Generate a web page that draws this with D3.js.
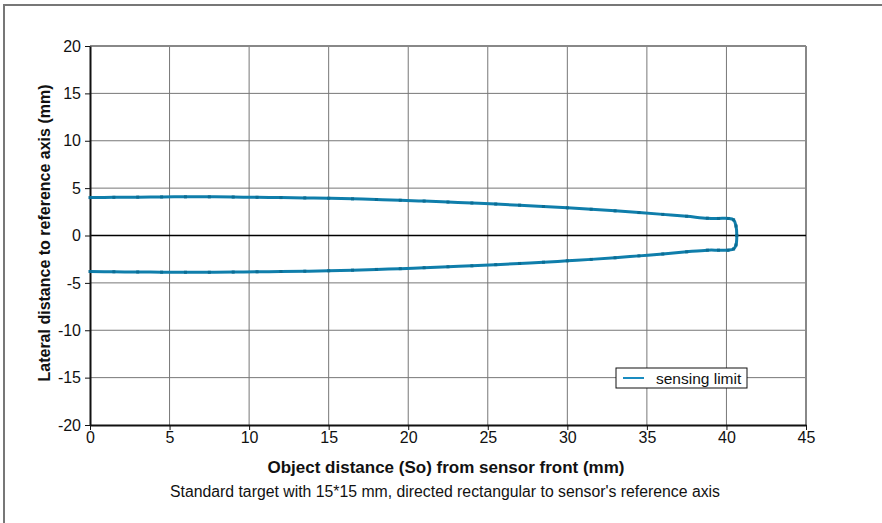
<!DOCTYPE html>
<html>
<head>
<meta charset="utf-8">
<script src="https://cdn.jsdelivr.net/npm/d3@7"></script>
<style>
  body { margin: 0; background: #fff; }
  svg text { font-family: "Liberation Sans", Arial, sans-serif; fill: #111; }
  .grid line { stroke: #777; stroke-width: 1px; }
  .tick text { font-size: 16px; }
</style>
</head>
<body>
<svg id="chart" width="882" height="523"></svg>
<script>
  // sensing limit, traced upper branch -> nose -> lower branch
  const distX = [0, 1.5, 3, 4.5, 6, 7.5, 9, 10.5, 12, 13.5, 15, 16.5, 18, 19.5, 21, 22.5, 24, 25.5, 27, 28.5,
    30, 31.5, 33, 34.5, 36, 37.5, 38.8, 39.5, 40.1, 40.45, 40.6, 40.65, 40.6, 40.45, 40.1, 39.5, 38.8,
    37.5, 36, 34.5, 33, 31.5, 30, 28.5, 27, 25.5, 24, 22.5, 21, 19.5, 18, 16.5, 15, 13.5, 12, 10.5,
    9, 7.5, 6, 4.5, 3, 1.5, 0];
  const latY = [4.0, 4.03, 4.05, 4.07, 4.08, 4.08, 4.06, 4.03, 4.0, 3.97, 3.93, 3.87, 3.8, 3.72, 3.63, 3.53, 3.43, 3.32, 3.2, 3.06,
    2.92, 2.77, 2.6, 2.42, 2.23, 2.03, 1.82, 1.8, 1.8, 1.65, 1.0, 0, -1.0, -1.42, -1.55, -1.55, -1.55,
    -1.72, -1.95, -2.15, -2.35, -2.52, -2.67, -2.82, -2.95, -3.08, -3.2, -3.3, -3.4, -3.5, -3.58, -3.66, -3.72, -3.77, -3.8, -3.83,
    -3.86, -3.88, -3.88, -3.87, -3.85, -3.83, -3.8];
  const xTicks = [0, 5, 10, 15, 20, 25, 30, 35, 40, 45];
  const yTicks = [-20, -15, -10, -5, 0, 5, 10, 15, 20];
  const seriesName = 'sensing limit';

  const svg = d3.select('#chart');
  const x = d3.scaleLinear().domain([0, 45]).range([90, 806]);
  const y = d3.scaleLinear().domain([-20, 20]).range([425, 46]);

  // outer frame (top and left only visible)
  svg.append('line').attr('x1', 3).attr('x2', 882).attr('y1', 5).attr('y2', 5)
    .attr('stroke', '#777').attr('stroke-width', 2);
  svg.append('line').attr('x1', 4).attr('x2', 4).attr('y1', 5).attr('y2', 523)
    .attr('stroke', '#777').attr('stroke-width', 2);

  const grid = svg.append('g').attr('class', 'grid');
  grid.selectAll('.vx').data(xTicks.slice(1, -1)).join('line')
    .attr('x1', d => x(d)).attr('x2', d => x(d)).attr('y1', y(20)).attr('y2', y(-20));
  grid.selectAll('.hy').data(yTicks.filter(d => d !== 0 && d !== -20)).join('line')
    .attr('x1', x(0)).attr('x2', x(45)).attr('y1', d => y(d)).attr('y2', d => y(d));

  // plot border right/top
  svg.append('line').attr('x1', x(45)).attr('x2', x(45)).attr('y1', y(20)).attr('y2', y(-20))
    .attr('stroke', '#888').attr('stroke-width', 2);
  svg.append('line').attr('x1', x(0)).attr('x2', x(45)).attr('y1', y(20)).attr('y2', y(20))
    .attr('stroke', '#888').attr('stroke-width', 2);
  // zero line
  svg.append('line').attr('x1', x(0)).attr('x2', x(45)).attr('y1', y(0)).attr('y2', y(0))
    .attr('stroke', '#000').attr('stroke-width', 1.5);

  const fmt = d => String(d);
  const xAxis = svg.append('g').attr('transform', `translate(0,${y(-20)})`)
    .call(d3.axisBottom(x).tickValues(xTicks).tickFormat(fmt).tickSize(5).tickSizeOuter(0).tickPadding(2));
  const yAxis = svg.append('g').attr('transform', `translate(${x(0)},0)`)
    .call(d3.axisLeft(y).tickValues(yTicks).tickFormat(fmt).tickSize(5).tickSizeOuter(0).tickPadding(4));
  [xAxis, yAxis].forEach(a => {
    a.select('.domain').attr('stroke', '#111').attr('stroke-width', 2);
    a.selectAll('.tick line').attr('stroke', '#111');
  });

  const pts = d3.zip(distX, latY);
  const line = d3.line().x(d => x(d[0])).y(d => y(d[1])).curve(d3.curveCatmullRom.alpha(0.5));
  svg.append('path').datum(pts)
    .attr('fill', 'none').attr('stroke', '#0f7eab').attr('stroke-width', 3)
    .attr('stroke-linejoin', 'round').attr('d', line);
  svg.append('g').selectAll('rect').data(pts).join('rect')
    .attr('x', d => x(d[0]) - 1.5).attr('y', d => y(d[1]) - 1.5)
    .attr('width', 3).attr('height', 3).attr('fill', '#0b6d94');

  // legend
  const lg = svg.append('g').attr('transform', 'translate(616,368)');
  lg.append('rect').attr('width', 131).attr('height', 20)
    .attr('fill', '#fff').attr('stroke', '#111').attr('stroke-width', 1);
  lg.append('line').attr('x1', 7).attr('x2', 28).attr('y1', 10).attr('y2', 10)
    .attr('stroke', '#1a8cc0').attr('stroke-width', 2);
  lg.append('text').attr('x', 40).attr('y', 15.5).attr('font-size', 15.5).text(seriesName);

  svg.append('text').attr('x', 446).attr('y', 473).attr('text-anchor', 'middle')
    .attr('font-size', 17).attr('font-weight', 'bold')
    .text('Object distance (So) from sensor front (mm)');
  svg.append('text').attr('x', 445).attr('y', 497).attr('text-anchor', 'middle')
    .attr('font-size', 15.8)
    .text("Standard target with 15*15 mm, directed rectangular to sensor's reference axis");
  svg.append('text').attr('transform', 'translate(50,233) rotate(-90)').attr('text-anchor', 'middle')
    .attr('font-size', 16).attr('font-weight', 'bold')
    .text('Lateral distance to reference axis (mm)');
</script>
</body>
</html>
